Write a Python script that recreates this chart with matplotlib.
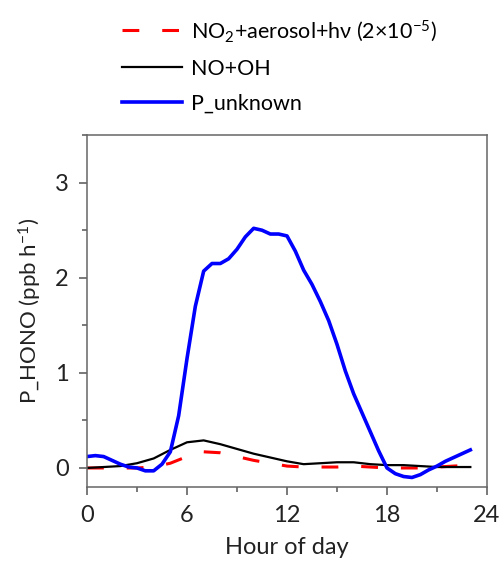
import numpy as np
import matplotlib
matplotlib.use('Agg')
import matplotlib.pyplot as plt
from matplotlib.ticker import MultipleLocator

plt.rcParams['font.family'] = ['Lato', 'DejaVu Sans']
plt.rcParams['mathtext.fontset'] = 'custom'
plt.rcParams['mathtext.rm'] = 'Lato'
plt.rcParams['mathtext.it'] = 'Lato:italic'

hours = np.arange(24)
half_hours = np.arange(0, 23.01, 0.5)

# NO2+aerosol+hv (scaled 2e-5)
p_no2_aerosol = [0.00, 0.00, 0.00, 0.00, 0.01, 0.05, 0.12, 0.17, 0.16, 0.12, 0.08, 0.05,
                 0.02, 0.01, 0.01, 0.01, 0.02, 0.01, 0.00, 0.00, 0.00, 0.01, 0.02, 0.03]
# NO+OH
p_no_oh = [0.00, 0.01, 0.02, 0.05, 0.10, 0.19, 0.27, 0.29, 0.25, 0.20, 0.15, 0.11,
           0.07, 0.04, 0.05, 0.06, 0.06, 0.04, 0.03, 0.03, 0.02, 0.01, 0.01, 0.01]
# unknown source, half-hourly
p_unknown = [0.12, 0.13, 0.12, 0.08, 0.04, 0.01, 0.00, -0.03, -0.03, 0.04, 0.17, 0.55,
             1.15, 1.70, 2.07, 2.15, 2.15, 2.20, 2.30, 2.43, 2.52, 2.50, 2.46, 2.46,
             2.44, 2.28, 2.08, 1.93, 1.75, 1.55, 1.30, 1.02, 0.78, 0.58, 0.38, 0.18,
             0.00, -0.06, -0.09, -0.10, -0.07, -0.02, 0.02, 0.07, 0.11, 0.15, 0.19]

fig = plt.figure(figsize=(5.0, 5.63), dpi=100)
ax = fig.add_axes([0.174, 0.135, 0.80, 0.625])

l1, = ax.plot(hours, p_no2_aerosol, color='red', lw=2.2, dashes=(5.5, 7.5),
              label='NO$_2$+aerosol+hν (2×10$^{-5}$)')
l2, = ax.plot(hours, p_no_oh, color='black', lw=1.6, label='NO+OH')
l3, = ax.plot(half_hours, p_unknown, color='#0000ff', lw=2.6, label='P_unknown')

ax.set_xlim(0, 24)
ax.set_ylim(-0.2, 3.5)
ax.xaxis.set_major_locator(MultipleLocator(6))
ax.xaxis.set_minor_locator(MultipleLocator(3))
ax.yaxis.set_major_locator(MultipleLocator(1))
ax.yaxis.set_minor_locator(MultipleLocator(0.5))
ax.tick_params(which='major', direction='out', length=6, width=1.1, color='#555555',
               labelsize=17, labelcolor='#222222', pad=7)
ax.tick_params(which='minor', direction='out', length=3.5, width=1.1, color='#555555')
for s in ax.spines.values():
    s.set_color('#666666')
    s.set_linewidth(1.1)

ax.set_xlabel('Hour of day', fontsize=17, color='#222222', labelpad=8)
ax.set_ylabel('P_HONO (ppb h$^{-1}$)', fontsize=16, color='#222222', labelpad=8)

fig.legend(handles=[l1, l2, l3], loc='upper left', bbox_to_anchor=(0.243, 0.968),
           frameon=False, fontsize=15.5, handlelength=2.8, handletextpad=0.45,
           labelspacing=0.7, borderpad=0, borderaxespad=0)

fig.savefig('out.png', dpi=100)
